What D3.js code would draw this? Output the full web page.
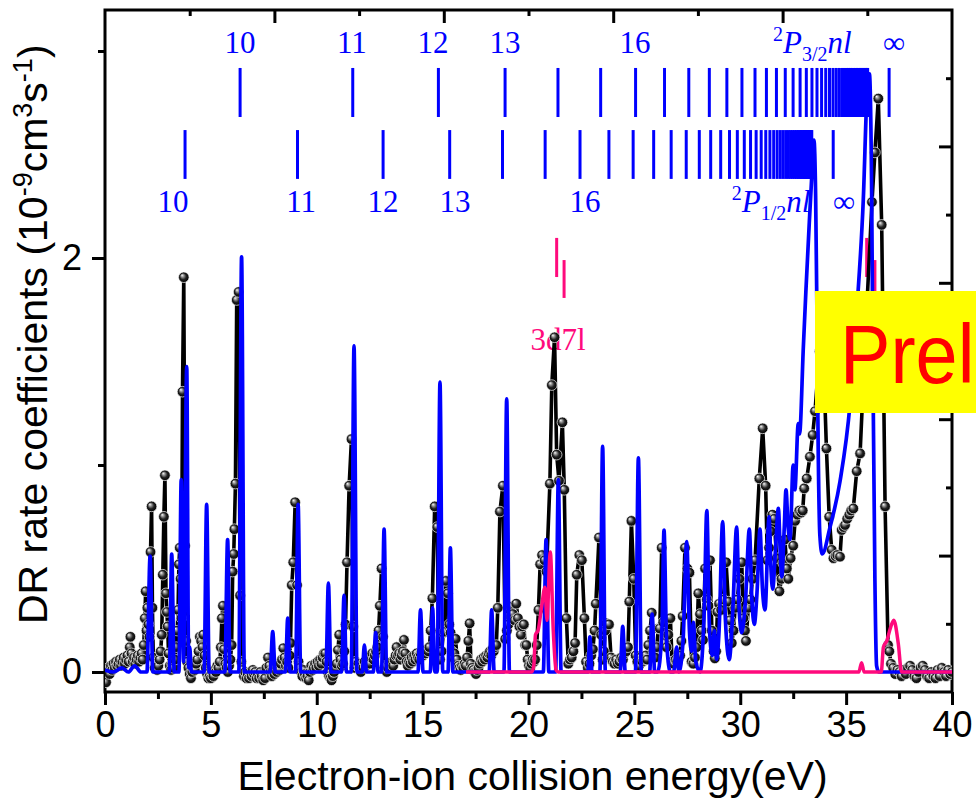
<!DOCTYPE html>
<html>
<head>
<meta charset="utf-8">
<script src="https://cdn.jsdelivr.net/npm/d3@7"></script>
<style>
  html, body { margin: 0; padding: 0; background: #fff; overflow: hidden; }
  svg { display: block; }
</style>
</head>
<body>
<svg id="chart" width="976" height="809"></svg>
<script>
// Measured DR rate coefficients (energy in eV, rate in 1e-9 cm^3 s^-1)
const measured = [
  [0.05,-0.05],[0.1,0.0],[0.16,0.02],[0.22,-0.01],[0.28,0.03],[0.34,0.01],[0.4,0.04],[0.46,0.02],
  [0.52,0.05],[0.58,0.03],[0.64,0.04],[0.7,0.06],[0.76,0.03],[0.82,0.05],[0.88,0.07],[0.94,0.04],
  [1.0,0.06],[1.06,0.08],[1.12,0.05],[1.17,0.12],[1.2,0.17],[1.25,0.09],[1.31,0.05],[1.37,0.07],
  [1.43,0.04],[1.49,0.06],[1.55,0.08],[1.61,0.05],[1.67,0.07],[1.73,0.09],[1.78,0.06],[1.83,0.13],
  [1.88,0.26],[1.92,0.39],[1.96,0.2],[2.0,0.31],[2.05,0.23],[2.1,0.17],[2.15,0.58],[2.2,0.8],
  [2.24,0.31],[2.28,0.07],[2.34,0.02],[2.4,0.04],[2.46,0.01],[2.52,0.03],[2.58,0.06],[2.63,0.1],
  [2.68,0.18],[2.73,0.47],[2.78,0.75],[2.83,0.95],[2.88,0.38],[2.92,0.29],[2.96,0.22],[3.0,0.09],
  [3.06,0.03],[3.12,0.01],[3.18,0.04],[3.24,0.02],[3.3,0.06],[3.36,0.12],[3.41,0.2],[3.45,0.3],
  [3.49,0.52],[3.53,0.6],[3.57,0.45],[3.61,0.26],[3.66,1.354],[3.72,1.907],[3.78,0.61],[3.83,0.15],
  [3.88,0.05],[3.94,0.02],[4.0,-0.01],[4.06,-0.03],[4.12,0.0],[4.18,0.02],[4.24,0.01],[4.3,0.04],
  [4.36,0.06],[4.42,0.1],[4.48,0.17],[4.54,0.15],[4.6,0.12],[4.64,0.18],[4.7,0.08],[4.76,0.02],
  [4.82,-0.01],[4.88,-0.03],[4.94,-0.02],[5.0,-0.03],[5.06,0.0],[5.12,-0.02],[5.18,0.01],[5.24,0.0],
  [5.3,0.03],[5.36,0.02],[5.42,0.05],[5.47,0.12],[5.52,0.26],[5.57,0.32],[5.62,0.11],[5.68,0.04],
  [5.74,0.02],[5.8,0.0],[5.86,0.03],[5.92,0.06],[5.98,0.13],[6.03,0.485],[6.08,0.57],[6.11,0.69],
  [6.16,0.91],[6.22,1.797],[6.31,1.836],[6.38,0.37],[6.44,0.05],[6.5,0.01],[6.56,-0.02],[6.62,0.0],
  [6.68,-0.03],[6.74,-0.01],[6.8,-0.03],[6.86,0.0],[6.92,-0.02],[6.98,0.01],[7.04,-0.01],[7.1,0.0],
  [7.16,-0.03],[7.22,-0.01],[7.28,-0.03],[7.34,0.0],[7.4,-0.02],[7.47,-0.04],[7.56,-0.03],[7.62,0.02],
  [7.7,0.07],[7.76,0.03],[7.82,0.0],[7.88,-0.02],[7.94,0.01],[8.0,-0.01],[8.06,0.02],[8.12,0.0],
  [8.18,0.03],[8.24,0.01],[8.3,0.04],[8.36,0.06],[8.42,0.115],[8.48,0.07],[8.54,0.03],[8.6,0.05],
  [8.66,0.02],[8.72,0.08],[8.76,0.14],[8.82,0.42],[8.89,0.53],[8.98,0.82],[9.07,0.42],[9.14,0.05],
  [9.2,0.02],[9.26,0.0],[9.32,-0.02],[9.38,0.01],[9.44,-0.01],[9.5,-0.03],[9.56,-0.02],[9.62,-0.04],
  [9.68,0.0],[9.74,0.03],[9.8,0.01],[9.86,0.02],[9.92,0.04],[9.98,0.02],[10.04,0.05],[10.1,0.03],
  [10.16,0.06],[10.22,0.04],[10.28,0.07],[10.34,0.09],[10.4,0.09],[10.46,0.05],[10.52,0.0],[10.58,-0.02],
  [10.64,-0.03],[10.7,-0.04],[10.76,-0.02],[10.82,0.0],[10.88,0.02],[10.94,0.04],[11.0,0.106],[11.06,0.18],
  [11.12,0.06],[11.18,0.03],[11.24,0.04],[11.3,0.1],[11.36,0.23],[11.43,0.53],[11.53,0.9],[11.64,1.125],
  [11.72,0.22],[11.78,0.02],[11.84,0.05],[11.9,0.03],[11.96,0.04],[12.02,0.02],[12.08,0.0],[12.14,0.03],
  [12.2,0.02],[12.26,0.05],[12.32,0.03],[12.38,0.04],[12.44,0.06],[12.5,0.04],[12.56,0.07],[12.62,0.09],
  [12.68,0.06],[12.74,0.08],[12.8,0.1],[12.86,0.12],[12.92,0.2],[12.98,0.32],[13.06,0.5],[13.13,0.17],
  [13.19,0.02],[13.25,0.03],[13.31,0.0],[13.37,0.02],[13.43,0.04],[13.49,0.02],[13.55,0.05],[13.61,0.03],
  [13.67,0.06],[13.73,0.08],[13.77,0.12],[13.83,0.08],[13.89,0.09],[13.95,0.06],[14.01,0.08],[14.07,0.1],
  [14.12,0.155],[14.18,0.09],[14.24,0.05],[14.3,0.03],[14.36,0.05],[14.42,0.04],[14.48,0.07],[14.54,0.05],
  [14.6,0.08],[14.66,0.06],[14.72,0.09],[14.78,0.07],[14.84,0.06],[14.9,0.09],[14.96,0.1],[15.02,0.08],
  [15.08,0.1],[15.14,0.09],[15.2,0.11],[15.26,0.1],[15.32,0.12],[15.38,0.2],[15.46,0.356],[15.57,0.8],
  [15.69,0.7],[15.76,0.09],[15.82,0.06],[15.9,0.1],[15.98,0.19],[16.05,0.195],[16.1,0.44],[16.19,0.38],
  [16.26,0.23],[16.32,0.19],[16.38,0.1],[16.44,0.07],[16.5,0.09],[16.56,0.16],[16.62,0.06],[16.68,0.03],
  [16.74,0.02],[16.8,0.01],[16.86,0.03],[16.92,0.02],[16.98,0.04],[17.04,0.03],[17.1,0.07],[17.16,0.15],
  [17.22,0.235],[17.28,0.04],[17.34,0.02],[17.4,0.01],[17.46,0.0],[17.52,-0.01],[17.58,0.01],[17.64,0.02],
  [17.7,0.04],[17.76,0.06],[17.82,0.05],[17.88,0.07],[17.94,0.06],[18.0,0.08],[18.06,0.07],[18.12,0.09],
  [18.18,0.1],[18.24,0.08],[18.3,0.11],[18.36,0.1],[18.42,0.12],[18.48,0.13],[18.55,0.31],[18.65,0.775],
  [18.79,0.9],[18.9,0.16],[18.98,0.2],[19.05,0.23],[19.12,0.3],[19.18,0.315],[19.26,0.28],[19.34,0.25],
  [19.42,0.33],[19.5,0.26],[19.57,0.22],[19.64,0.18],[19.7,0.22],[19.78,0.23],[19.84,0.13],[19.9,0.13],
  [19.96,0.06],[20.02,0.03],[20.08,0.02],[20.14,0.04],[20.2,0.06],[20.26,0.05],[20.31,0.06],[20.39,0.13],
  [20.47,0.3],[20.55,0.52],[20.64,0.565],[20.76,0.54],[20.85,0.485],[21.01,0.91],[21.1,1.386],[21.23,1.617],
  [21.33,1.05],[21.44,0.924],[21.6,1.206],[21.69,0.88],[21.79,0.26],[21.88,0.04],[21.96,0.06],[22.04,0.07],
  [22.12,0.1],[22.2,0.14],[22.28,0.47],[22.4,0.565],[22.52,0.54],[22.64,0.26],[22.72,0.05],[22.8,0.02],
  [22.88,0.04],[22.96,0.08],[23.04,0.11],[23.12,0.2],[23.18,0.33],[23.33,0.65],[23.43,0.18],[23.5,0.06],
  [23.56,0.1],[23.62,0.2],[23.68,0.235],[23.8,0.23],[23.9,0.07],[23.98,0.05],[24.06,0.04],[24.14,0.06],
  [24.22,0.04],[24.3,0.05],[24.38,0.07],[24.46,0.06],[24.54,0.09],[24.62,0.1],[24.7,0.12],[24.76,0.34],
  [24.86,0.73],[24.97,0.45],[25.06,0.08],[25.14,0.05],[25.22,0.03],[25.3,0.07],[25.38,0.05],[25.46,0.06],
  [25.54,0.08],[25.6,0.06],[25.66,0.13],[25.74,0.2],[25.82,0.286],[25.9,0.1],[25.98,0.07],[26.06,0.12],
  [26.13,0.21],[26.2,0.21],[26.29,0.6],[26.36,0.24],[26.44,0.14],[26.52,0.12],[26.6,0.18],[26.7,0.26],
  [26.78,0.05],[26.86,0.04],[26.94,0.06],[27.02,0.05],[27.1,0.07],[27.16,0.08],[27.22,0.15],[27.28,0.27],
  [27.39,0.6],[27.5,0.5],[27.6,0.48],[27.7,0.05],[27.78,0.04],[27.86,0.07],[27.94,0.12],[28.02,0.38],
  [28.1,0.28],[28.18,0.2],[28.24,0.155],[28.34,0.5],[28.42,0.35],[28.5,0.32],[28.57,0.54],[28.66,0.2],
  [28.74,0.1],[28.8,0.066],[28.86,0.1],[28.92,0.29],[29.0,0.33],[29.1,0.3],[29.2,0.35],[29.33,0.53],
  [29.44,0.34],[29.52,0.25],[29.6,0.14],[29.68,0.2],[29.76,0.31],[29.86,0.35],[29.96,0.45],[30.07,0.53],
  [30.15,0.26],[30.22,0.2],[30.27,0.15],[30.38,0.31],[30.48,0.35],[30.58,0.45],[30.7,0.54],[30.9,0.935],
  [31.06,1.177],[31.2,0.9],[31.28,0.54],[31.36,0.6],[31.44,0.68],[31.52,0.76],[31.6,0.74],[31.72,0.55],
  [31.85,0.39],[31.95,0.45],[32.03,0.525],[32.11,0.64],[32.2,0.5],[32.27,0.45],[32.38,0.55],[32.5,0.61],
  [32.59,0.73],[32.7,0.76],[32.79,0.78],[32.88,0.77],[32.95,0.78],[33.02,0.887],[33.14,0.935],[33.29,1.04],
  [33.42,1.145],[33.53,1.26],[33.75,1.55],[33.95,1.45],[34.07,1.08],[34.2,0.75],[34.32,0.59],[34.4,0.55],
  [34.5,0.56],[34.58,0.565],[34.71,0.557],[34.79,0.686],[34.88,0.7],[34.95,0.71],[35.05,0.74],[35.15,0.76],
  [35.24,0.78],[35.34,0.79],[35.5,0.97],[35.66,1.056],[35.9,1.6],[36.22,2.27],[36.36,2.51],[36.52,2.77],
  [36.68,2.16],[36.84,0.8],[36.98,0.13],[37.04,0.1],[37.12,0.04],[37.22,0.02],[37.32,-0.01],[37.42,0.01],
  [37.52,0.0],[37.62,-0.02],[37.72,0.01],[37.82,-0.01],[37.92,0.02],[38.02,0.03],[38.12,0.01],[38.22,-0.02],
  [38.32,-0.03],[38.42,0.0],[38.52,0.02],[38.62,0.03],[38.72,0.01],[38.82,-0.02],[38.92,-0.03],[39.02,0.0],
  [39.12,-0.02],[39.22,-0.03],[39.32,0.01],[39.42,-0.02],[39.52,0.02],[39.62,0.0],[39.72,-0.02],[39.82,0.01],
  [39.92,-0.01],[40.0,0.0]
];

// Calculated DR spectrum (blue)
const theory = [
  [0.0,0.01],[0.4,0.0],[0.8,0.02],[1.1,0.0],[1.4,0.03],[1.7,0.0],
  [1.98,0.0],[2.13,0.56],[2.26,0.0],
  [3.04,0.0],[3.15,0.57],[3.27,0.0],
  [3.49,0.0],[3.6,0.93],[3.71,0.05],[3.86,1.475],[3.95,0.02],[4.0,0.12],[4.08,0.0],
  [4.68,0.0],[4.8,0.81],[4.92,0.0],
  [5.66,0.0],[5.79,0.64],[5.91,0.0],
  [6.32,0.0],[6.45,2.006],[6.58,0.0],
  [7.8,0.0],[7.92,0.195],[8.04,0.0],
  [8.52,0.0],[8.63,0.26],[8.74,0.0],
  [9.0,0.0],[9.12,0.81],[9.24,0.0],
  [10.43,0.0],[10.55,0.43],[10.67,0.0],
  [11.17,0.0],[11.29,0.37],[11.4,0.0],
  [11.63,0.0],[11.76,1.575],[11.9,0.0],
  [12.15,0.0],[12.25,0.13],[12.35,0.0],
  [12.67,0.0],[12.78,0.19],[12.9,0.0],
  [13.06,0.0],[13.18,0.69],[13.3,0.0],
  [14.78,0.0],[14.9,0.3],[15.02,0.0],
  [15.36,0.0],[15.47,0.31],[15.58,0.0],
  [15.69,0.0],[15.82,1.4],[15.95,0.0],
  [16.2,0.0],[16.31,0.6],[16.43,0.0],
  [18.14,0.0],[18.26,0.3],[18.38,0.0],
  [18.84,0.0],[18.97,1.32],[19.1,0.0],
  [20.7,0.0],[20.83,0.64],[20.96,0.0],
  [21.28,0.0],[21.41,0.93],[21.54,0.0],
  [22.8,0.0],[22.9,0.17],[23.0,0.0],
  [23.37,0.0],[23.5,1.09],[23.63,0.0],
  [24.33,0.0],[24.45,0.22],[24.57,0.0],
  [25.05,0.0],[25.19,1.035],[25.33,0.0],
  [25.72,0.0],[25.84,0.28],[25.96,0.0],
  [26.1,0.0],[26.3,0.2],[26.4,0.686],[26.52,0.15],[26.7,0.0],[26.85,0.0],[27.0,0.12],[27.1,0.0],
  [27.3,0.15],[27.47,0.63],[27.6,0.2],[27.7,0.1],[27.78,0.24],[27.9,0.05],[28.1,0.0],[28.3,0.3],
  [28.42,0.78],[28.55,0.2],[28.68,0.08],[28.78,0.2],[28.88,0.06],[29.0,0.2],[29.17,0.726],[29.3,0.25],
  [29.48,0.06],[29.65,0.3],[29.83,0.7],[29.95,0.3],[30.07,0.19],[30.25,0.35],[30.43,0.69],[30.55,0.35],
  [30.66,0.23],[30.8,0.4],[30.93,0.69],[31.05,0.4],[31.17,0.3],[31.36,0.75],[31.45,0.5],[31.53,0.4],
  [31.67,0.6],[31.8,0.79],[31.9,0.55],[31.96,0.46],[32.08,0.7],[32.16,0.88],[32.26,0.7],[32.35,0.64],
  [32.5,1.0],[32.58,0.88],[32.74,1.2],[32.8,1.15],[32.98,1.57],[33.1,1.84],[33.26,2.17],[33.38,2.4],
  [33.48,2.57],[33.56,2.3],[33.62,1.74],[33.68,1.09],[33.76,0.66],[33.87,0.57],[34.24,0.7],[34.71,0.92],
  [35.19,1.3],[35.5,1.74],[35.81,2.28],[36.0,2.82],[36.1,2.89],[36.2,2.38],[36.28,1.3],[36.36,0.44],
  [36.44,0.03],[36.55,0.0],[37.5,0.0],[40.0,0.0]
];

// 3d7l contribution (pink)
const core3d = [
  [17.05,0.0],[20.15,0.0],[20.25,0.03],[20.33,0.18],[20.45,0.2],[20.62,0.315],[20.78,0.41],[20.87,0.25],
  [21.03,0.58],[21.17,0.2],[21.3,0.01],[21.4,0.0],[35.6,0.0],[35.73,0.045],[35.85,0.0],[36.66,0.0],
  [36.76,0.12],[36.92,0.15],[37.07,0.205],[37.25,0.25],[37.46,0.14],[37.62,0.0],[40.0,0.0]
];

// Rydberg series positions (eV), n = 10 ... 55, and series limits
const p32Energies = [6.38,11.7,15.745,18.894,21.392,23.408,25.057,26.424,27.57,28.54,29.368,30.08,30.697,31.236,31.709,32.126,32.496,32.826,33.121,33.386,33.624,33.841,34.037,34.215,34.379,34.528,34.665,34.791,34.907,35.015,35.114,35.207,35.292,35.372,35.447,35.516,35.581,35.642,35.7,35.753,35.804,35.852,35.896,35.939,35.979,36.017];
const p12Energies = [3.78,9.092,13.133,16.278,18.773,20.786,22.433,23.798,24.942,25.911,26.7375,27.449,28.066,28.604,29.076,29.492,29.862,30.191,30.486,30.75,30.989,31.205,31.401,31.579,31.742,31.891,32.028,32.154,32.27,32.378,32.477,32.569,32.655,32.735,32.809,32.878,32.943,33.004,33.061,33.115,33.166,33.213,33.258,33.3,33.34,33.378];
const p32Limit = 37.03;
const p12Limit = 34.39;

// Series labels
const p32LabelText = ["10","11","12","13","16","\u221E"];
const p32LabelE = [6.38,11.66,15.49,18.89,25.03,37.26];
const p12LabelText = ["10","11","12","13","16","\u221E"];
const p12LabelE = [3.21,9.26,13.13,16.53,22.67,34.9];

// 3d7l resonance markers
const coreTickE = [21.33,21.68,35.97,36.36];
const coreTickTop = [2.097,1.99,2.097,1.99];
const coreTickBottom = [1.908,1.807,1.908,1.807];

// Axis ticks
const xMajor = [0,5,10,15,20,25,30,35,40];
const xMinor = [2.5,7.5,12.5,17.5,22.5,27.5,32.5,37.5];
const yMajor = [0,2];
const yMinor = [1,3];
const frameTicks = [1,2,3,4,5,6,7,8,9];

const BLUE = "#0000ff", PINK = "#ff0a7c";
const svg = d3.select("#chart");
const L = 105, R = 952, T = 10, B = 692;

const x = d3.scaleLinear().domain([0, 40]).range([L, R]);
const y = d3.scaleLinear().domain([-0.0966, 3.198]).range([B, T]);
const xTop = d3.scaleLinear().domain([0, 10]).range([L, R]);
const yRight = d3.scaleLinear().domain([0, 10]).range([B, T]);

const defs = svg.append("defs");
const g = defs.append("radialGradient").attr("id", "ball")
  .attr("cx", 0.5).attr("cy", 0.5).attr("r", 0.5).attr("fx", 0.33).attr("fy", 0.3);
g.append("stop").attr("offset", 0).attr("stop-color", "#ffffff");
g.append("stop").attr("offset", 0.22).attr("stop-color", "#a8a8a8");
g.append("stop").attr("offset", 0.6).attr("stop-color", "#222");
g.append("stop").attr("offset", 1).attr("stop-color", "#000");
defs.append("clipPath").attr("id", "plot").append("rect")
  .attr("x", L).attr("y", T).attr("width", R - L).attr("height", B - T);
defs.append("clipPath").attr("id", "page").append("rect")
  .attr("x", 0).attr("y", 0).attr("width", 976).attr("height", 809);

const axisFont = "'Liberation Sans', Arial, sans-serif";
const serif = "'Liberation Serif', 'Times New Roman', serif";

function styleAxis(sel) {
  sel.select(".domain").remove();
  sel.selectAll(".tick line").attr("stroke", "#000").attr("stroke-width", 3);
  sel.selectAll("text").attr("font-family", axisFont).attr("fill", "#000");
}

// bottom axis
svg.append("g").attr("transform", `translate(0,${B})`)
  .call(d3.axisBottom(x).tickValues(xMajor).tickSize(13).tickPadding(6).tickFormat(d3.format("d")))
  .call(styleAxis)
  .call(s => s.selectAll("text").attr("font-size", 36));
svg.append("g").attr("transform", `translate(0,${B})`)
  .call(d3.axisBottom(x).tickValues(xMinor).tickSize(7).tickFormat(""))
  .call(styleAxis);

// left axis
svg.append("g").attr("transform", `translate(${L},0)`)
  .call(d3.axisLeft(y).tickValues(yMajor).tickSize(13).tickPadding(10).tickFormat(d3.format("d")))
  .call(styleAxis)
  .call(s => s.selectAll("text").attr("font-size", 36));
svg.append("g").attr("transform", `translate(${L},0)`)
  .call(d3.axisLeft(y).tickValues(yMinor).tickSize(7).tickFormat(""))
  .call(styleAxis);

// top and right frame ticks (inward)
svg.append("g").attr("transform", `translate(0,${T})`)
  .call(d3.axisTop(xTop).tickValues(frameTicks).tickSize(-13).tickFormat(""))
  .call(styleAxis)
  .call(s => s.selectAll(".tick line").attr("y2", d => d % 2 ? 6 : 13));
svg.append("g").attr("transform", `translate(${R},0)`)
  .call(d3.axisRight(yRight).tickValues(frameTicks).tickSize(-13).tickFormat(""))
  .call(styleAxis)
  .call(s => s.selectAll(".tick line").attr("x2", d => d % 2 ? -6 : -13));

// frame
svg.append("rect").attr("x", L).attr("y", T).attr("width", R - L).attr("height", B - T)
  .attr("fill", "none").attr("stroke", "#000").attr("stroke-width", 3);

// axis titles
svg.append("text").attr("x", (L + R) / 2 + 4).attr("y", 790)
  .attr("text-anchor", "middle").attr("font-family", axisFont).attr("font-size", 41)
  .text("Electron-ion collision energy(eV)");

const yt = svg.append("text").attr("transform", "translate(47,624) rotate(-90)")
  .attr("font-family", axisFont).attr("font-size", 41);
yt.append("tspan").text("DR rate coefficients (10");
yt.append("tspan").attr("font-size", 27).attr("dy", -15).text("-9");
yt.append("tspan").attr("dy", 15).text("cm");
yt.append("tspan").attr("font-size", 27).attr("dy", -15).text("3");
yt.append("tspan").attr("dy", 15).text("s");
yt.append("tspan").attr("font-size", 27).attr("dy", -15).text("-1");
yt.append("tspan").attr("dy", 15).text(")");

// Rydberg series markers
const plot = svg.append("g");
const upperTop = 2.918, upperBottom = 2.681, lowerTop = 2.618, lowerBottom = 2.382;
plot.append("g").selectAll("line").data(p32Energies.concat([p32Limit])).join("line")
  .attr("x1", d => x(d)).attr("x2", d => x(d))
  .attr("y1", y(upperTop)).attr("y2", y(upperBottom))
  .attr("stroke", BLUE).attr("stroke-width", 3);
plot.append("g").selectAll("line").data(p12Energies.concat([p12Limit])).join("line")
  .attr("x1", d => x(d)).attr("x2", d => x(d))
  .attr("y1", y(lowerTop)).attr("y2", y(lowerBottom))
  .attr("stroke", BLUE).attr("stroke-width", 3);

plot.append("g").selectAll("text").data(p32LabelText).join("text")
  .attr("x", (d, i) => x(p32LabelE[i])).attr("y", y(2.99))
  .attr("text-anchor", "middle").attr("font-family", serif).attr("font-size", 31)
  .attr("fill", BLUE).text(d => d);
plot.append("g").selectAll("text").data(p12LabelText).join("text")
  .attr("x", (d, i) => x(p12LabelE[i])).attr("y", y(2.222))
  .attr("text-anchor", "middle").attr("font-family", serif).attr("font-size", 31)
  .attr("fill", BLUE).text(d => d);

function termLabel(E, v, j) {
  const t = plot.append("text").attr("x", x(E)).attr("y", y(v))
    .attr("font-family", serif).attr("font-size", 31).attr("fill", BLUE);
  t.append("tspan").attr("font-size", 20).attr("dy", -12).text("2");
  t.append("tspan").attr("font-style", "italic").attr("dy", 12).text("P");
  t.append("tspan").attr("font-size", 20).attr("dy", 8).text(j);
  t.append("tspan").attr("font-style", "italic").attr("dy", -8).text("nl");
}
termLabel(31.55, 2.99, "3/2");
termLabel(29.6, 2.222, "1/2");

// 3d7l markers
plot.append("g").selectAll("line").data(coreTickE).join("line")
  .attr("x1", d => x(d)).attr("x2", d => x(d))
  .attr("y1", (d, i) => y(coreTickTop[i])).attr("y2", (d, i) => y(coreTickBottom[i]))
  .attr("stroke", PINK).attr("stroke-width", 3);
plot.append("text").attr("x", x(21.4)).attr("y", y(1.555))
  .attr("text-anchor", "middle").attr("font-family", serif).attr("font-size", 31)
  .attr("fill", PINK).text("3d7l");

// curves
const data = svg.append("g").attr("clip-path", "url(#plot)");
const lin = d3.line().x(d => x(d[0])).y(d => y(d[1]));
const smooth = d3.line().x(d => x(d[0])).y(d => y(d[1])).curve(d3.curveMonotoneX);

data.append("path").datum(measured).attr("d", lin)
  .attr("fill", "none").attr("stroke", "#000").attr("stroke-width", 3.6).attr("stroke-linejoin", "round");
data.append("g").selectAll("circle").data(measured).join("circle")
  .attr("cx", d => x(d[0])).attr("cy", d => y(d[1])).attr("r", 5.3)
  .attr("fill", "url(#ball)").attr("stroke", "#fff").attr("stroke-width", 0.7);
data.append("path").datum(theory).attr("d", smooth)
  .attr("fill", "none").attr("stroke", BLUE).attr("stroke-width", 3.7).attr("stroke-linejoin", "round");
data.append("path").datum(core3d).attr("d", smooth)
  .attr("fill", "none").attr("stroke", PINK).attr("stroke-width", 3.5).attr("stroke-linejoin", "round");

// stamp, running off the right edge of the page
const stamp = svg.append("g").attr("clip-path", "url(#page)");
stamp.append("rect").attr("x", 815).attr("y", 291).attr("width", 161).attr("height", 122).attr("fill", "#ffff00");
stamp.append("text").attr("transform", "translate(840,383) scale(0.9,1)")
  .attr("font-family", axisFont).attr("font-size", 84)
  .attr("fill", "#ff0000").text("Preliminary");
</script>
</body>
</html>
